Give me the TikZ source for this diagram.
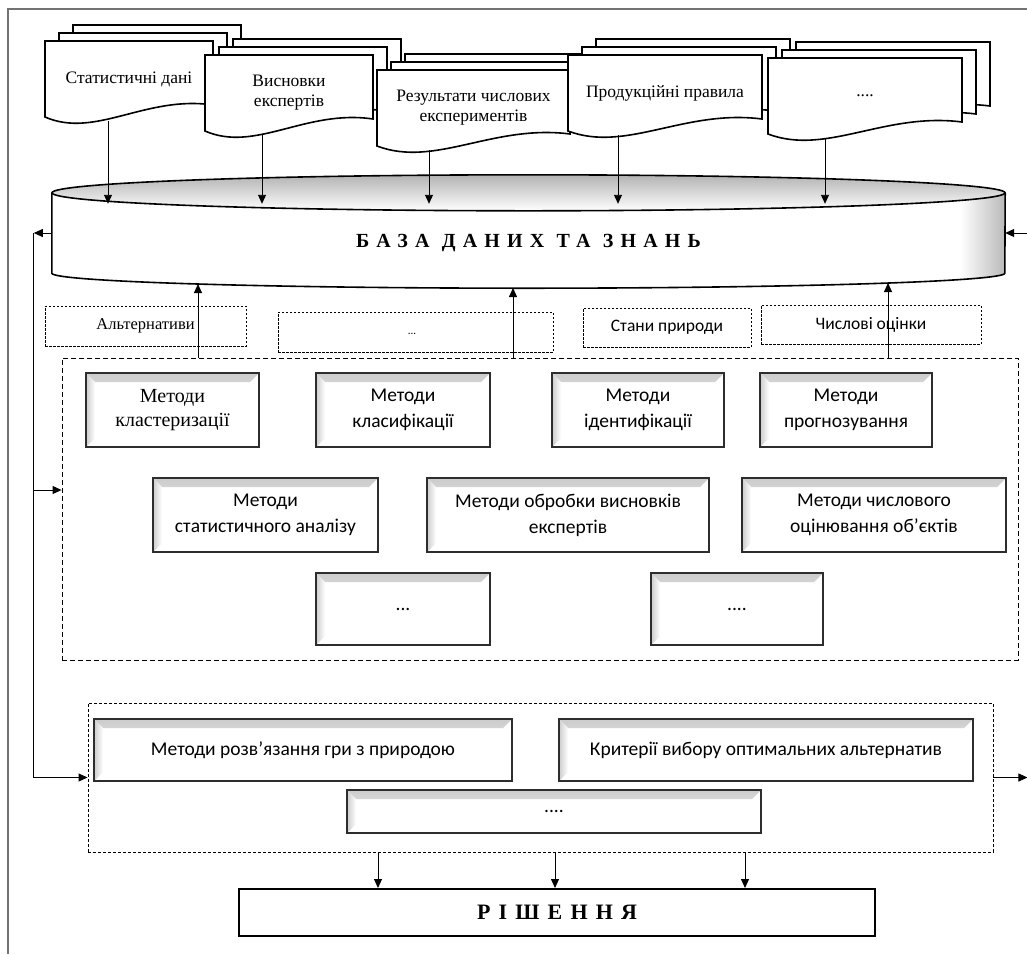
\documentclass[tikz,border=0pt]{standalone}
\usepackage{fontspec}
\setmainfont{Liberation Serif}
\newfontfamily\calfont{Carlito}
\definecolor{boxedge}{RGB}{45,45,45}
\definecolor{framegray}{RGB}{115,115,115}
\usetikzlibrary{calc}
\usetikzlibrary{positioning}
\usetikzlibrary{arrows.meta}

\tikzset{
  arr/.style={-{Triangle[length=9pt,width=8pt]}, line width=0.9pt},
  docpage/.style={draw=black, line width=1.6pt, fill=white},
  doctext/.style={align=center, font=\fontsize{17.5}{20}\selectfont},
  bevel/.style={draw=boxedge, line width=2.2pt, fill=white, align=center, inner sep=0pt,
    font=\calfont\fontsize{19.5}{26}\selectfont,
    path picture={
      \shade[top color=gray!40, bottom color=white]
        (path picture bounding box.north west) -- (path picture bounding box.north east)
        -- ([shift={(-9pt,-9pt)}]path picture bounding box.north east)
        -- ([shift={(9pt,-9pt)}]path picture bounding box.north west) -- cycle;
      \shade[left color=gray!40, right color=white]
        (path picture bounding box.north west) -- ([shift={(9pt,-9pt)}]path picture bounding box.north west)
        -- ([shift={(9pt,9pt)}]path picture bounding box.south west) -- (path picture bounding box.south west) -- cycle;
    }},
  grp/.style={draw, dash pattern=on 5pt off 3pt, line width=0.9pt, inner sep=0pt},
  tag/.style={draw, dash pattern=on 2.5pt off 1.5pt, line width=0.9pt, inner sep=0pt,
    font=\calfont\fontsize{17.5}{20}\selectfont},
}

\newcommand{\docstack}[6]{%
  \foreach \lay in {2,1,0}{
    \draw[docpage] ({#2+14*\lay},{#3-8*\lay}) -- ++(0,76)
      .. controls +(0.3*#4,22) and +(-0.4*#4,-10) .. ++(#4,-12) -- ++(0,-64) -- cycle;
  }
  \node[doctext] (#1) at ({#2+#4/2},{#3+38}) {#6};
  \coordinate (#1-out) at (#5,{#3+80});
}

\begin{document}
\begin{tikzpicture}[x=1pt, y=-1pt]
  \useasboundingbox (0,0) rectangle (1027,954);
  \draw[framegray, line width=1.3pt] (8,954) -- (8,9) -- (1027,9);

  \docstack{dstat}{45}{41}{168}{108}{Статистичні дані}
  \docstack{dexp}{205}{55}{168}{262}{Висновки\\експертів}
  \docstack{dnum}{377}{70}{193}{429}{Результати числових\\експериментів}
  \docstack{drule}{568}{55}{194}{618}{Продукційні правила}
  \docstack{dmore}{768}{58}{194}{825}{....}

  \node[minimum width=953pt, minimum height=80pt, inner sep=0pt] (db) at (528.5,233) {};
  \fill[white] (db.north west) -- (db.south west)
    arc[start angle=180, end angle=360, x radius=476.5pt, y radius=15pt] -- (db.north east) -- cycle;
  \begin{scope}
    \clip (db.north west) -- (db.south west)
      arc[start angle=180, end angle=360, x radius=476.5pt, y radius=15pt] -- (db.north east) -- cycle;
    \shade[left color=white, right color=gray!55] ([xshift=-45pt]db.north east) rectangle ([yshift=-20pt]db.south east);
  \end{scope}
  \shade[top color=gray!60, middle color=white, bottom color=white] (db.north) ellipse [x radius=476.5pt, y radius=18pt];
  \draw[line width=1.6pt] (db.north west) -- (db.south west)
    arc[start angle=180, end angle=360, x radius=476.5pt, y radius=15pt] -- (db.north east);
  \draw[line width=1.6pt] (db.north) ellipse [x radius=476.5pt, y radius=18pt];
  \node[font={\bfseries\fontsize{20}{24}\selectfont\addfontfeatures{LetterSpace=36}}] (dbname)
    at ([yshift=-10pt]db.center) {БАЗА ДАНИХ ТА ЗНАНЬ};

  \coordinate (dbtop) at ([yshift=-11pt]db.north);
  \foreach \d in {dstat,dexp,dnum,drule,dmore}
    \draw[arr] (\d-out) -- (\d-out |- dbtop);

  \node[tag, font=\fontsize{16.5}{20}\selectfont, minimum width=201pt, minimum height=40pt] (alt) at (145.5,326) {Альтернативи};
  \node[tag, minimum width=275pt, minimum height=40pt] (etc) at (415.5,332) {};
  \node[font=\calfont\fontsize{11}{12}\selectfont] (etcdots) at (412,334) {...};
  \node[tag, minimum width=168pt, minimum height=39pt] (state) at (667,327.5) {Стани природи};
  \node[tag, minimum width=220pt, minimum height=39pt] (score) at (871,324.5) {Числові оцінки};

  \node[grp, minimum width=956pt, minimum height=302pt] (mid) at (540,509) {};
  \node[grp, dash pattern=on 3pt off 2pt, minimum width=905pt, minimum height=149pt] (bot) at (540.5,777.5) {};

  \node[bevel, font=\fontsize{20}{24}\selectfont, minimum width=173pt, minimum height=74pt] (mclust) at (172.5,410) {Методи\\кластеризації};
  \node[bevel, minimum width=174pt, minimum height=74pt] (mclass) at (403,410) {Методи\\класифікації};
  \node[bevel, minimum width=172pt, minimum height=74pt] (mident) at (638,410) {Методи\\ідентифікації};
  \node[bevel, minimum width=172pt, minimum height=74pt] (mfore) at (846,410) {Методи\\прогнозування};
  \node[bevel, minimum width=225pt, minimum height=74pt] (mstat) at (265.5,515) {Методи\\статистичного аналізу};
  \node[bevel, minimum width=282pt, minimum height=74pt] (mexp) at (568,515) {Методи обробки висновків\\експертів};
  \node[bevel, minimum width=264pt, minimum height=74pt] (mnum) at (874,515) {Методи числового\\оцінювання об’єктів};
  \node[bevel, minimum width=174pt, minimum height=72pt] (mdots) at (403,609) {...};
  \node[bevel, minimum width=172pt, minimum height=72pt] (mdots2) at (737,609) {....};

  \node[bevel, minimum width=418pt, minimum height=62pt] (game) at (303,750) {Методи розв’язання гри з природою};
  \node[bevel, minimum width=414pt, minimum height=62pt] (crit) at (766,750) {Критерії вибору оптимальних альтернатив};
  \node[bevel, minimum width=414pt, minimum height=43pt] (bdots) at (554,811.5) {....};

  \node[draw, line width=2pt, minimum width=636pt, minimum height=47pt,
    font={\bfseries\fontsize{22}{26}\selectfont\addfontfeatures{LetterSpace=37}}] (sol) at (557,912.5) {РІШЕННЯ};

  \coordinate (up1) at (198,284);
  \coordinate (up2) at (513,288);
  \coordinate (up3) at (888,283);
  \foreach \u in {up1,up2,up3}
    \draw[arr] (mid.north -| \u) -- (\u);

  \coordinate (lft) at ([xshift=-18pt]db.west);
  \draw[arr] (db.west) -- (lft);
  \draw[line width=0.9pt] (lft) -- (lft |- bot.west);
  \draw[arr] (lft |- bot.west) -- (bot.west);
  \coordinate (midin) at ([yshift=19pt]mid.west);
  \draw[arr] (lft |- midin) -- (midin);

  \coordinate (rin) at ([xshift=22pt]db.east);
  \draw[arr] (rin) -- (db.east);
  \coordinate (rout) at ([xshift=34pt]bot.east);
  \draw[arr] (bot.east) -- (rout);

  \foreach \dx [count=\i] in {-179,-2,188}{
    \coordinate (s\i) at ([xshift=\dx pt]sol.north);
    \draw[arr] (s\i |- bot.south) -- (s\i);
  }
\end{tikzpicture}
\end{document}
